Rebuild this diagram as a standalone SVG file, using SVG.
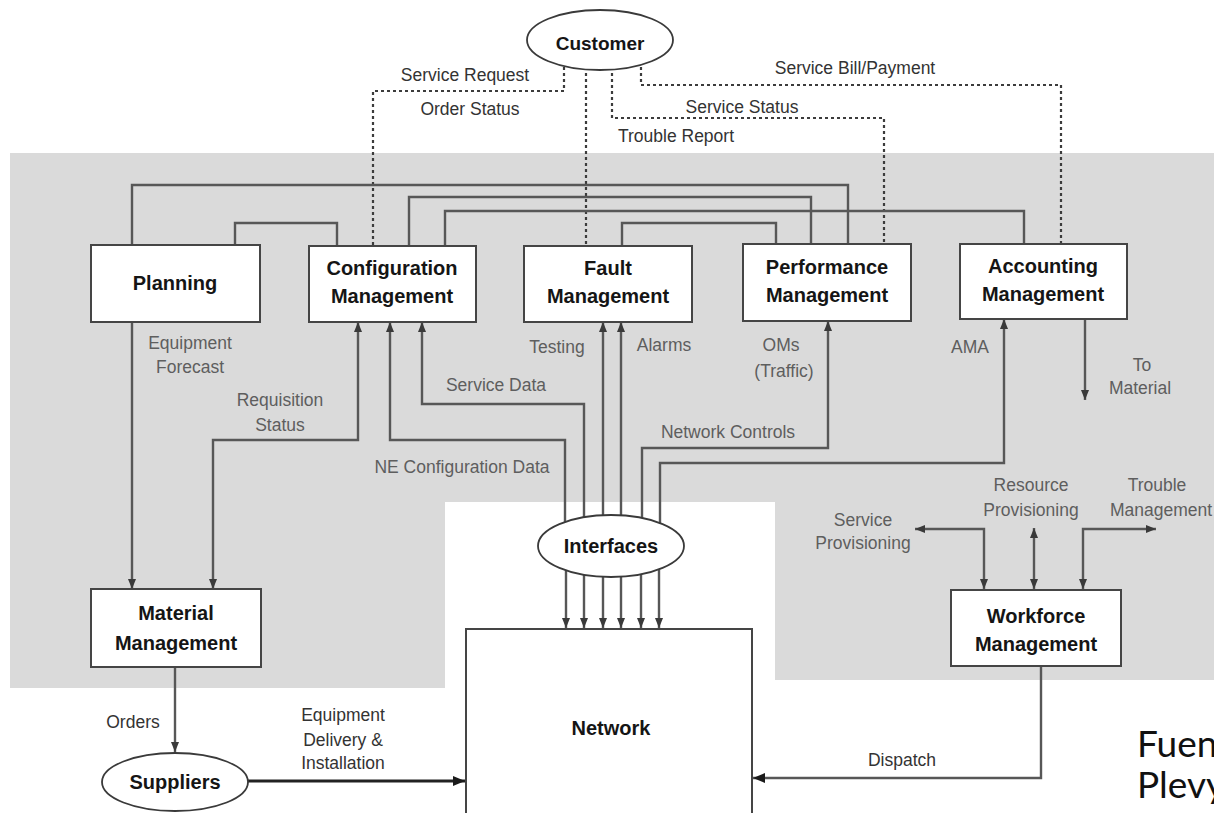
<svg xmlns="http://www.w3.org/2000/svg" width="1214" height="813" viewBox="0 0 1214 813">
  <style>
    .box { fill: #ffffff; stroke: #454545; stroke-width: 2; }
    .oval { fill: #ffffff; stroke: #3a3a3a; stroke-width: 1.8; }
    .ln { fill: none; stroke: #575757; stroke-width: 2.4; }
    .ln-dark { fill: none; stroke: #222222; stroke-width: 2.8; }
    .dash { fill: none; stroke: #3c3c3c; stroke-width: 2.2; stroke-dasharray: 3 3; }
    .name { font-family: "Liberation Sans", Arial, sans-serif; font-weight: bold; font-size: 20px; fill: #151515; text-anchor: middle; }
    .lbl { font-family: "Liberation Sans", Arial, sans-serif; font-size: 17.5px; fill: #5e5e5e; text-anchor: middle; }
    .lbl-w { font-family: "Liberation Sans", Arial, sans-serif; font-size: 17.5px; fill: #333333; text-anchor: middle; }
    .src { font-family: Lato, "Open Sans", sans-serif; font-size: 37px; fill: #111111; }
  </style>
  <defs>
    <marker id="arr" viewBox="0 0 10 8" refX="10" refY="4" markerWidth="10" markerHeight="8" markerUnits="userSpaceOnUse" orient="auto-start-reverse">
      <path d="M0,0 L10,4 L0,8 Z" fill="#3a3a3a"/>
    </marker>
    <marker id="arr-big" viewBox="0 0 12 10" refX="12" refY="5" markerWidth="12" markerHeight="10" markerUnits="userSpaceOnUse" orient="auto-start-reverse">
      <path d="M0,0 L12,5 L0,10 Z" fill="#1a1a1a"/>
    </marker>
  </defs>

  <rect width="1214" height="813" fill="#ffffff"/>

  <!-- shaded management layer with a cut-out around the network -->
  <path id="layer" d="M10,153 H1214 V680 H775 V502 H445 V688 H10 Z" fill="#dadada"/>

  <g id="connectors">
    <!-- customer interactions -->
    <path class="dash" d="M564,55 V91 H373 V246"/>
    <path class="dash" d="M586,55 V246"/>
    <path class="dash" d="M612,55 V118 H884 V244"/>
    <path class="dash" d="M641,55 V85 H1061 V244"/>

    <!-- links between management functions -->
    <path class="ln" d="M132,245 V185 H848 V244"/>
    <path class="ln" d="M235,245 V223 H337 V246"/>
    <path class="ln" d="M409,246 V197 H811 V244"/>
    <path class="ln" d="M445,246 V211 H1024 V244"/>
    <path class="ln" d="M622,246 V223 H776 V244"/>

    <!-- material flows -->
    <path class="ln" d="M132,322 V589" marker-end="url(#arr)"/>
    <path class="ln" d="M358,322 V440 H213 V589" marker-start="url(#arr)" marker-end="url(#arr)"/>
    <path class="ln" d="M1085,319 V400" marker-end="url(#arr)"/>
    <path class="ln" d="M175,667 V752" marker-end="url(#arr)"/>

    <!-- data from the network interfaces -->
    <path class="ln" d="M390,322 V440 H565 V540" marker-start="url(#arr)"/>
    <path class="ln" d="M422,322 V404 H584 V540" marker-start="url(#arr)"/>
    <path class="ln" d="M603,322 V540" marker-start="url(#arr)"/>
    <path class="ln" d="M621,322 V540" marker-start="url(#arr)"/>
    <path class="ln" d="M828,321 V448 H642 V540" marker-start="url(#arr)"/>
    <path class="ln" d="M1004,319 V463 H660 V540" marker-start="url(#arr)"/>

    <!-- interfaces down to the network -->
    <path class="ln" d="M566,560 V628" marker-end="url(#arr)"/>
    <path class="ln" d="M584,560 V628" marker-end="url(#arr)"/>
    <path class="ln" d="M603,560 V628" marker-end="url(#arr)"/>
    <path class="ln" d="M621,560 V628" marker-end="url(#arr)"/>
    <path class="ln" d="M641,560 V628" marker-end="url(#arr)"/>
    <path class="ln" d="M659,560 V628" marker-end="url(#arr)"/>

    <!-- workforce -->
    <path class="ln" d="M984,589 V529 H915" marker-start="url(#arr)" marker-end="url(#arr)"/>
    <path class="ln" d="M1034,589 V528" marker-start="url(#arr)" marker-end="url(#arr)"/>
    <path class="ln" d="M1083,589 V529 H1156" marker-start="url(#arr)" marker-end="url(#arr)"/>
    <path class="ln" d="M1041,666 V778 H753" marker-end="url(#arr-big)"/>

    <!-- supplier delivery -->
    <path class="ln-dark" d="M248,781 H465" marker-end="url(#arr-big)"/>
  </g>

  <g id="customer">
    <ellipse class="oval" cx="600" cy="40" rx="73" ry="30"/>
    <text class="name" x="600" y="50" style="font-size:19px">Customer</text>
  </g>

  <g id="planning">
    <rect class="box" x="91" y="245" width="169" height="77"/>
    <text class="name" x="175" y="290">Planning</text>
  </g>

  <g id="configuration">
    <rect class="box" x="309" y="246" width="167" height="76"/>
    <text class="name" x="392" y="275">Configuration</text>
    <text class="name" x="392" y="303">Management</text>
  </g>

  <g id="fault">
    <rect class="box" x="524" y="246" width="168" height="76"/>
    <text class="name" x="608" y="275">Fault</text>
    <text class="name" x="608" y="303">Management</text>
  </g>

  <g id="performance">
    <rect class="box" x="743" y="244" width="168" height="77"/>
    <text class="name" x="827" y="274">Performance</text>
    <text class="name" x="827" y="302">Management</text>
  </g>

  <g id="accounting">
    <rect class="box" x="960" y="244" width="167" height="75"/>
    <text class="name" x="1043" y="273">Accounting</text>
    <text class="name" x="1043" y="301">Management</text>
  </g>

  <g id="material">
    <rect class="box" x="91" y="589" width="170" height="78"/>
    <text class="name" x="176" y="620">Material</text>
    <text class="name" x="176" y="650">Management</text>
  </g>

  <g id="workforce">
    <rect class="box" x="951" y="590" width="170" height="76"/>
    <text class="name" x="1036" y="623">Workforce</text>
    <text class="name" x="1036" y="651">Management</text>
  </g>

  <g id="interfaces">
    <ellipse class="oval" cx="611" cy="546" rx="73" ry="31"/>
    <text class="name" x="611" y="553">Interfaces</text>
  </g>

  <g id="network">
    <rect class="box" x="466" y="629" width="286" height="190"/>
    <text class="name" x="611" y="735">Network</text>
  </g>

  <g id="suppliers">
    <ellipse class="oval" cx="175" cy="782" rx="73" ry="29"/>
    <text class="name" x="175" y="789">Suppliers</text>
  </g>

  <g id="labels">
    <text class="lbl-w" x="465" y="81">Service Request</text>
    <text class="lbl-w" x="470" y="115">Order Status</text>
    <text class="lbl-w" x="855" y="74">Service Bill/Payment</text>
    <text class="lbl-w" x="742" y="113">Service Status</text>
    <text class="lbl-w" x="676" y="142">Trouble Report</text>

    <text class="lbl" x="190" y="349">Equipment</text>
    <text class="lbl" x="190" y="373">Forecast</text>
    <text class="lbl" x="280" y="406">Requisition</text>
    <text class="lbl" x="280" y="431">Status</text>
    <text class="lbl" x="496" y="391">Service Data</text>
    <text class="lbl" x="462" y="473">NE Configuration Data</text>
    <text class="lbl" x="557" y="353">Testing</text>
    <text class="lbl" x="664" y="351">Alarms</text>
    <text class="lbl" x="781" y="351">OMs</text>
    <text class="lbl" x="784" y="377">(Traffic)</text>
    <text class="lbl" x="728" y="438">Network Controls</text>
    <text class="lbl" x="970" y="353">AMA</text>
    <text class="lbl" x="1142" y="371">To</text>
    <text class="lbl" x="1140" y="394">Material</text>
    <text class="lbl" x="863" y="526">Service</text>
    <text class="lbl" x="863" y="549">Provisioning</text>
    <text class="lbl" x="1031" y="491">Resource</text>
    <text class="lbl" x="1031" y="516">Provisioning</text>
    <text class="lbl" x="1157" y="491">Trouble</text>
    <text class="lbl" x="1110" y="516" style="text-anchor:start">Management</text>

    <text class="lbl-w" x="133" y="728">Orders</text>
    <text class="lbl-w" x="343" y="721">Equipment</text>
    <text class="lbl-w" x="343" y="746">Delivery &amp;</text>
    <text class="lbl-w" x="343" y="769">Installation</text>
    <text class="lbl-w" x="902" y="766">Dispatch</text>
  </g>

  <!-- source note, running off the right edge -->
  <g id="source">
    <text class="src" x="1137" y="757">Fuen</text>
    <text class="src" x="1137" y="798">Plevy</text>
  </g>
</svg>
